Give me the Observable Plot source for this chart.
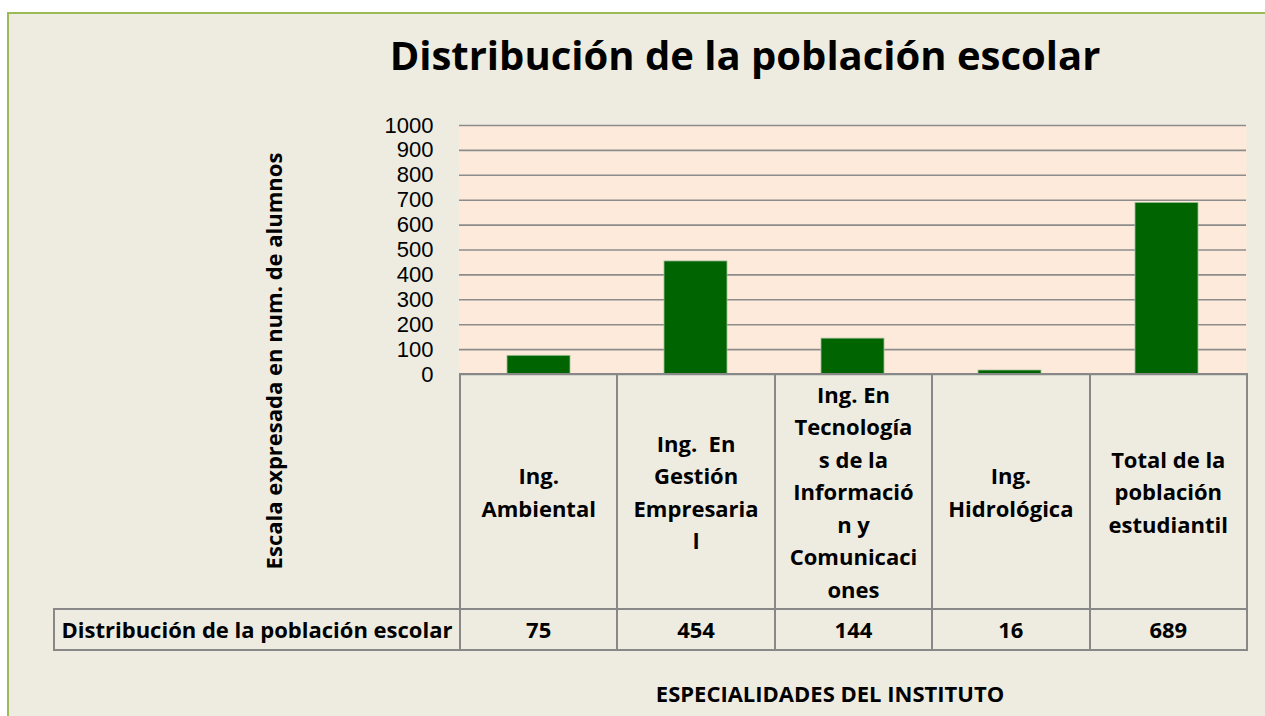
<!DOCTYPE html>
<html>
<head>
<meta charset="utf-8">
<script src="https://cdn.jsdelivr.net/npm/d3@7"></script>
<script src="https://cdn.jsdelivr.net/npm/@observablehq/plot@0.6"></script>
<style>
  html, body { margin: 0; padding: 0; background: #ffffff; width: 1265px; height: 716px; overflow: hidden; }
  body { position: relative; font-family: "Open Sans", "DejaVu Sans", sans-serif; color: #000; }
  #frame { position: absolute; left: 7px; top: 12px; width: 1280px; height: 720px; background: #EEECE1;
           border-left: 2px solid #9BBB59; border-top: 2px solid #9BBB59; box-sizing: border-box; }
  #title { position: absolute; left: 0; width: 1490px; top: 28px; text-align: center; font-weight: 700; font-size: 40px; line-height: 54px; }
  #ylabel { position: absolute; left: 273px; top: 361px; transform: translate(-50%, -50%) rotate(-90deg); white-space: nowrap; font-weight: 700; font-size: 22px; }
  #chart { position: absolute; left: 0; top: 110px; }
  #table { position: absolute; left: 53px; top: 373px; border-collapse: collapse; table-layout: fixed; }
  #table td { border: 2px solid #888888; text-align: center; vertical-align: middle; font-weight: 700; font-size: 22px; padding: 0; }
  #table td.blank { border-left: none; border-top: none; }
  #table tr.head td { height: 233px; line-height: 32.5px; }
  #table tr.vals td { height: 39px; line-height: 39px; }
  #table td.rowlabel { white-space: nowrap; }
  #xtitle { position: absolute; left: 0; width: 1660px; top: 678px; text-align: center; font-weight: 700; font-size: 22px; }
</style>
</head>
<body>
<div id="frame"></div>
<div id="title"></div>
<div id="ylabel"></div>
<div id="chart"></div>
<table id="table"></table>
<div id="xtitle"></div>
<script>
// ---- data ----
const titleText = "Distribución de la población escolar";
const yTitle = "Escala expresada en num. de alumnos";
const xTitle = "ESPECIALIDADES DEL INSTITUTO";
const seriesName = "Distribución de la población escolar";
const categories = [
  "Ing. Ambiental",
  "Ing.  En Gestión Empresarial",
  "Ing. En Tecnologías de la Información y Comunicaciones",
  "Ing. Hidrológica",
  "Total de la población estudiantil"
];
const categoryLines = [
  ["Ing.", "Ambiental"],
  ["Ing.  En", "Gestión", "Empresaria", "l"],
  ["Ing. En", "Tecnología", "s de la", "Informació", "n y", "Comunicaci", "ones"],
  ["Ing.", "Hidrológica"],
  ["Total de la", "población", "estudiantil"]
];
const values = [75, 454, 144, 16, 689];
const yTicks = [0, 100, 200, 300, 400, 500, 600, 700, 800, 900, 1000];

const data = categories.map((c, i) => ({cat: c, value: values[i]}));

document.getElementById("title").textContent = titleText;
document.getElementById("ylabel").textContent = yTitle;
document.getElementById("xtitle").textContent = xTitle;

const chart = Plot.plot({
  width: 1265,
  height: 270,
  marginLeft: 459,
  marginRight: 19,
  marginTop: 15,
  marginBottom: 6,
  style: {background: "transparent", fontFamily: "'Liberation Sans', Arial, sans-serif", fontSize: "22px", color: "#000", overflow: "visible"},
  x: {domain: categories, paddingInner: 0.6, paddingOuter: 0.3, axis: null},
  y: {domain: [0, 1000], axis: null},
  marks: [
    Plot.frame({fill: "#FDEADA", stroke: "none"}),
    Plot.ruleY(yTicks, {stroke: "#8C8C8C", strokeWidth: 1.6}),
    Plot.barY(data, {x: "cat", y: "value", fill: "#006400", stroke: "#9DBF99", strokeWidth: 0.8}),
    Plot.axisY({ticks: yTicks, tickFormat: d => String(d), tickSize: 0, tickPadding: 26, fontSize: 22, fontWeight: 400,
                fill: "#000", stroke: "#8C8C8C", strokeWidth: 2, line: true, label: null})
  ]
});
document.getElementById("chart").appendChild(chart);

// ---- data table under the chart ----
const colW = 787 / categories.length;
const table = document.getElementById("table");
const cg = document.createElement("colgroup");
[406, ...categories.map(() => colW)].forEach(w => {
  const col = document.createElement("col");
  col.style.width = w + "px";
  cg.appendChild(col);
});
table.appendChild(cg);
const tr1 = document.createElement("tr");
tr1.className = "head";
const blank = document.createElement("td");
blank.className = "blank";
tr1.appendChild(blank);
categoryLines.forEach(lines => {
  const td = document.createElement("td");
  td.innerHTML = lines.map(l => `<div style="white-space:pre">${l}</div>`).join("");
  tr1.appendChild(td);
});
table.appendChild(tr1);
const tr2 = document.createElement("tr");
tr2.className = "vals";
const lab = document.createElement("td");
lab.className = "rowlabel";
lab.textContent = seriesName;
tr2.appendChild(lab);
values.forEach(v => {
  const td = document.createElement("td");
  td.textContent = v;
  tr2.appendChild(td);
});
table.appendChild(tr2);
</script>
</body>
</html>
